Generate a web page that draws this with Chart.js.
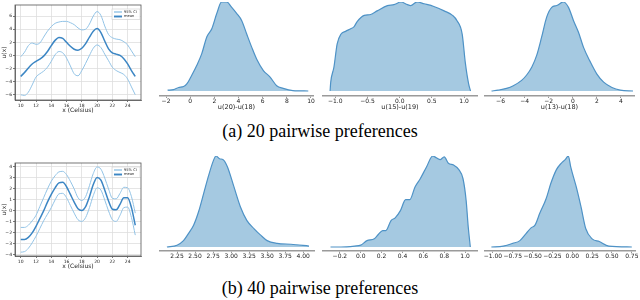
<!DOCTYPE html>
<html>
<head>
<meta charset="utf-8">
<script src="https://cdn.jsdelivr.net/npm/chart.js@4.4.0/dist/chart.umd.min.js"></script>
<style>
  body { margin: 0; width: 640px; height: 300px; position: relative; background: #fff; overflow: hidden; }
  .panel { position: absolute; }
  .cap { position: absolute; left: 0; width: 640px; text-align: center; font-family: "Liberation Serif", serif; font-size: 18px; line-height: 18px; color: #000; }
</style>
</head>
<body>
<div class="panel" style="left:0;top:0;width:146px;height:115px"><canvas id="gpA"></canvas></div>
<div class="panel" style="left:150px;top:0;width:173px;height:112px"><canvas id="kdeA1"></canvas></div>
<div class="panel" style="left:313px;top:0;width:174px;height:112px"><canvas id="kdeA2"></canvas></div>
<div class="panel" style="left:475px;top:0;width:169px;height:112px"><canvas id="kdeA3"></canvas></div>
<div class="cap" style="top:122px">(a) 20 pairwise preferences</div>

<div class="panel" style="left:0;top:158px;width:146px;height:112px"><canvas id="gpB"></canvas></div>
<div class="panel" style="left:150px;top:150px;width:174px;height:111px"><canvas id="kdeB1"></canvas></div>
<div class="panel" style="left:313px;top:150px;width:174px;height:111px"><canvas id="kdeB2"></canvas></div>
<div class="panel" style="left:475px;top:150px;width:170px;height:111px"><canvas id="kdeB3"></canvas></div>
<div class="cap" style="top:279px">(b) 40 pairwise preferences</div>

<script>
Chart.defaults.font.family = '"DejaVu Sans", sans-serif';
Chart.defaults.color = '#222';

// temperature grid shared by both GP panels
const temps = [10, 10.5, 11, 11.5, 12, 12.5, 13, 13.5, 14, 14.5, 15, 15.5, 16, 16.5, 17, 17.5,
               18, 18.5, 19, 19.5, 20, 20.5, 21, 21.5, 22, 22.5, 23, 23.5, 24, 24.5, 25];
const tempTicks = [10, 12, 14, 16, 18, 20, 22, 24];

// (a) 20 preferences: posterior mean and 95% band of u(x)
const meanA  = [-3.2, -2.6, -1.9, -1.3, -0.9, -0.55, -0.1, 0.6, 1.5, 2.3, 2.75, 2.6, 2.0, 1.4, 0.95, 0.8,
                1.1, 1.8, 2.8, 3.7, 4.1, 3.5, 2.2, 1.0, 0.4, 0.2, 0.0, -0.5, -1.3, -2.3, -3.2];
const upperA = [-0.2, 0.5, 1.5, 1.9, 1.7, 1.9, 2.8, 3.7, 4.4, 4.9, 5.1, 5.2, 5.2, 5.0, 4.7, 4.2,
                3.9, 4.0, 4.8, 6.0, 6.7, 6.1, 4.5, 3.2, 2.7, 2.5, 2.4, 2.1, 1.6, 0.7, -0.2];
const lowerA = [-6.0, -6.1, -5.6, -4.5, -3.3, -2.8, -2.4, -1.8, -0.9, 0.1, 0.6, 0.4, -0.4, -1.6, -2.8, -3.1,
                -2.3, -1.2, 0.0, 1.1, 1.6, 1.2, 0.2, -0.8, -1.8, -2.3, -2.6, -2.9, -3.6, -4.8, -6.0];
const uTicksA = [-6, -4, -2, 0, 2, 4, 6];

// (b) 40 preferences
const meanB  = [-2.6, -2.6, -2.4, -2.0, -1.4, -0.7, 0.0, 0.8, 1.5, 2.1, 2.55, 2.6, 2.2, 1.5, 0.8, 0.2,
                0.05, 0.4, 1.3, 2.4, 3.05, 2.8, 1.9, 0.9, 0.15, 0.1, 0.6, 1.2, 1.2, 0.3, -1.3];
const upperB = [-1.5, -1.5, -1.3, -0.9, -0.4, 0.4, 1.2, 2.0, 2.7, 3.2, 3.55, 3.6, 3.3, 2.7, 2.0, 1.2,
                0.95, 1.3, 2.3, 3.4, 4.0, 3.8, 3.0, 2.0, 1.15, 1.1, 1.6, 2.15, 2.1, 1.3, -0.2];
const lowerB = [-3.75, -3.7, -3.4, -2.9, -2.3, -1.6, -0.9, -0.3, 0.3, 1.0, 1.55, 1.6, 1.2, 0.5, -0.2, -0.8,
                -0.95, -0.6, 0.3, 1.4, 2.1, 1.9, 1.0, 0.0, -0.8, -0.95, -0.4, 0.3, 0.35, -0.6, -2.2];
const uTicksB = [-4, -3, -2, -1, 0, 1, 2, 3, 4];

// posterior densities of utility differences (relative height)
const a20m18X = [-1.87, -1.38, -0.96, -0.55, -0.28, 0.14, 0.55, 0.96, 1.38, 1.79, 2.2, 2.6, 3.03, 3.44, 3.86,
                 4.27, 4.68, 5.1, 5.5, 6.06, 6.6, 7.16, 7.7, 8.5, 9.78];
const a20m18Y = [0.01, 0.015, 0.04, 0.05, 0.08, 0.18, 0.29, 0.42, 0.61, 0.70, 0.87, 1.0, 1.0, 0.94, 0.87,
                 0.79, 0.64, 0.49, 0.36, 0.23, 0.16, 0.06, 0.03, 0.005, 0.0];
const a15m19X = [-1.08, -1.07, -1.02, -0.97, -0.91, -0.84, -0.76, -0.71, -0.66, -0.55, -0.45, -0.35, -0.19, -0.09,
                 0.02, 0.12, 0.17, 0.27, 0.38, 0.53, 0.69, 0.82, 0.89, 0.97, 1.02, 1.07, 1.1];
const a15m19Y = [0, 0.1, 0.27, 0.53, 0.64, 0.67, 0.70, 0.72, 0.78, 0.85, 0.86, 0.9, 0.96, 0.97,
                 1.0, 0.97, 0.96, 1.0, 0.98, 0.95, 0.9, 0.85, 0.79, 0.64, 0.31, 0.08, 0];
const a13m18X = [-6.75, -6.2, -5.5, -4.94, -4.25, -3.83, -3.4, -3.0, -2.58, -2.17, -1.75, -1.33, -0.78, -0.36,
                 0.06, 0.47, 0.89, 1.44, 2.0, 2.56, 3.25, 3.94, 5.0];
const a13m18Y = [0, 0.01, 0.03, 0.06, 0.12, 0.18, 0.27, 0.4, 0.61, 0.83, 0.94, 0.96, 1.0, 0.94,
                 0.79, 0.66, 0.49, 0.33, 0.19, 0.1, 0.04, 0.01, 0];

const b20m18X = [2.11, 2.25, 2.34, 2.41, 2.48, 2.55, 2.62, 2.69, 2.76, 2.79, 2.84, 2.89, 2.95, 3.04, 3.13,
                 3.22, 3.32, 3.41, 3.5, 3.64, 3.83, 4.08];
const b20m18Y = [0, 0.02, 0.07, 0.15, 0.24, 0.39, 0.59, 0.79, 0.96, 1.0, 0.97, 0.96, 0.88, 0.66, 0.44,
                 0.29, 0.2, 0.13, 0.07, 0.04, 0.03, 0.01];
const b15m19X = [-0.29, -0.19, -0.06, 0.0, 0.06, 0.13, 0.17, 0.21, 0.24, 0.29, 0.33, 0.38, 0.43, 0.47, 0.52,
                 0.57, 0.63, 0.69, 0.71, 0.76, 0.80, 0.84, 0.89, 0.94, 0.98, 1.01, 1.03, 1.05];
const b15m19Y = [0, 0, 0.01, 0.02, 0.07, 0.09, 0.14, 0.18, 0.18, 0.29, 0.32, 0.40, 0.52, 0.52, 0.66,
                 0.75, 0.88, 1.0, 0.99, 0.96, 0.99, 0.92, 0.9, 0.85, 0.75, 0.51, 0.22, 0];
const b13m18X = [-1.02, -0.87, -0.75, -0.66, -0.58, -0.52, -0.47, -0.41, -0.33, -0.27, -0.2, -0.14, -0.09, -0.05,
                 -0.02, 0.05, 0.11, 0.17, 0.25, 0.34, 0.46, 0.75];
const b13m18Y = [0, 0.01, 0.04, 0.07, 0.15, 0.21, 0.24, 0.37, 0.53, 0.70, 0.85, 0.92, 0.96, 1.0,
                 0.88, 0.66, 0.44, 0.2, 0.09, 0.06, 0.01, 0];

const ticksA20m18 = ['−2', '0', '2', '4', '6', '8', '10'];
const ticksA15m19 = ['−1.0', '−0.5', '0.0', '0.5', '1.0'];
const ticksA13m18 = ['−6', '−4', '−2', '0', '2', '4'];
const ticksB20m18 = ['2.25', '2.50', '2.75', '3.00', '3.25', '3.50', '3.75', '4.00'];
const ticksB15m19 = ['−0.2', '0.0', '0.2', '0.4', '0.6', '0.8', '1.0'];
const ticksB13m18 = ['−1.00', '−0.75', '−0.50', '−0.25', '0.00', '0.25', '0.50', '0.75'];

const ciColor = '#92c3e6';
const meanColor = '#3c86c4';
const kdeLine = '#4e92c6';
const kdeFill = 'rgba(31, 119, 180, 0.4)';

const minus = v => String(v).replace('-', '−');

// box around the plotting area (matplotlib frame)
const frame = {
    id: 'frame',
    afterDraw(chart) {
        const {ctx, chartArea: a} = chart;
        ctx.save();
        ctx.strokeStyle = '#555';
        ctx.lineWidth = 0.8;
        ctx.strokeRect(a.left, a.top, a.right - a.left, a.bottom - a.top);
        ctx.restore();
    }
};

// small framed legend in the upper right corner
const boxLegend = {
    id: 'boxLegend',
    afterDraw(chart) {
        const {ctx, chartArea: a} = chart;
        const items = chart.data.datasets.filter(d => d.label);
        const w = 28, rowH = 4.5, h = items.length * rowH + 1.5;
        const x = a.right - w - 1, y = a.top + 4;
        ctx.save();
        ctx.fillStyle = 'rgba(255,255,255,0.85)';
        ctx.strokeStyle = '#ccc';
        ctx.lineWidth = 0.6;
        ctx.fillRect(x, y, w, h);
        ctx.strokeRect(x, y, w, h);
        ctx.font = '3.6px "DejaVu Sans"';
        ctx.textBaseline = 'middle';
        items.forEach((d, i) => {
            const cy = y + 0.75 + rowH * i + rowH / 2;
            ctx.strokeStyle = d.borderColor;
            ctx.lineWidth = d.borderWidth + 0.4;
            ctx.beginPath();
            ctx.moveTo(x + 2, cy);
            ctx.lineTo(x + 10, cy);
            ctx.stroke();
            ctx.fillStyle = '#222';
            ctx.fillText(d.label, x + 12, cy);
        });
        ctx.restore();
    }
};

function gpChart(id, mean, upper, lower, yMin, yMax, yTicks, xAxisH, titlePad) {
    const pts = ys => temps.map((t, i) => ({x: t, y: ys[i]}));
    new Chart(document.getElementById(id), {
        type: 'line',
        data: {
            datasets: [
                {label: '95% CI', data: pts(upper), borderColor: ciColor, borderWidth: 1},
                {label: 'mean', data: pts(mean), borderColor: meanColor, borderWidth: 1.5},
                {label: '', data: pts(lower), borderColor: ciColor, borderWidth: 1}
            ]
        },
        options: {
            responsive: true,
            maintainAspectRatio: false,
            animation: false,
            layout: {padding: {top: 5, right: 5, left: 0, bottom: 0}},
            elements: {point: {radius: 0}, line: {cubicInterpolationMode: 'monotone'}},
            plugins: {legend: {display: false}, tooltip: {enabled: false}},
            scales: {
                x: {
                    type: 'linear', min: 9.25, max: 25.75,
                    afterBuildTicks: s => { s.ticks = tempTicks.map(v => ({value: v})); },
                    afterFit: s => { s.height = xAxisH; },
                    ticks: {font: {size: 4.5}, padding: 1, maxRotation: 0, autoSkip: false},
                    grid: {color: '#dedede', lineWidth: 0.8, tickLength: 2, tickColor: '#555'},
                    border: {display: true, color: '#555', width: 0.8},
                    title: {display: true, text: 'x (Celsius)', font: {size: 6}, padding: {top: 0, bottom: titlePad}}
                },
                y: {
                    min: yMin, max: yMax,
                    afterBuildTicks: s => { s.ticks = yTicks.map(v => ({value: v})); },
                    afterFit: s => { s.width = 15; },
                    ticks: {font: {size: 4.5}, padding: 1, callback: v => minus(v), autoSkip: false},
                    grid: {color: '#dedede', lineWidth: 0.8, tickLength: 2, tickColor: '#555'},
                    border: {display: true, color: '#555', width: 0.8},
                    title: {display: true, text: 'u(x)', font: {size: 6}, padding: {top: 0.5, bottom: 0}}
                }
            }
        },
        plugins: [frame, boxLegend]
    });
}

function kdeChart(id, xs, ys, xMin, xMax, tickLabels, title, yMin, padTop, xAxisH) {
    const tickValues = tickLabels.map(t => parseFloat(t.replace('−', '-')));
    new Chart(document.getElementById(id), {
        type: 'line',
        data: {
            datasets: [{
                data: xs.map((x, i) => ({x: x, y: ys[i]})),
                borderColor: kdeLine,
                backgroundColor: kdeFill,
                borderWidth: 1.2,
                fill: 'origin'
            }]
        },
        options: {
            responsive: true,
            maintainAspectRatio: false,
            animation: false,
            layout: {padding: {top: padTop, left: 10, right: 10, bottom: 0}},
            elements: {point: {radius: 0}, line: {cubicInterpolationMode: 'monotone'}},
            plugins: {legend: {display: false}, tooltip: {enabled: false}},
            scales: {
                x: {
                    type: 'linear', min: xMin, max: xMax,
                    afterBuildTicks: s => { s.ticks = tickValues.map(v => ({value: v})); },
                    afterFit: s => { s.height = xAxisH; },
                    ticks: {font: {size: 6}, padding: 0, maxRotation: 0, autoSkip: false,
                            callback: (v, i) => tickLabels[i]},
                    grid: {display: true, drawOnChartArea: false, tickLength: 2, tickColor: '#999', tickWidth: 1},
                    border: {display: true, color: '#9a9a9a', width: 1.6},
                    title: {display: !!title, text: title, font: {size: 6.5}, padding: {top: 0, bottom: 1}}
                },
                y: {display: false, min: yMin, max: 1}
            }
        }
    });
}

gpChart('gpA', meanA, upperA, lowerA, -6.8, 7.7, uTicksA, 15, 1);
gpChart('gpB', meanB, upperB, lowerB, -4.1, 4.36, uTicksB, 14, 0.4);

kdeChart('kdeA1', a20m18X, a20m18Y, -2.5, 10.17, ticksA20m18, 'u(20)-u(18)', -0.056, 2, 16);
kdeChart('kdeA2', a15m19X, a15m19Y, -1.19, 1.2, ticksA15m19, 'u(15)-u(19)', -0.056, 2, 16);
kdeChart('kdeA3', a13m18X, a13m18Y, -7.29, 5.08, ticksA13m18, 'u(13)-u(18)', -0.056, 2, 16);

kdeChart('kdeB1', b20m18X, b20m18Y, 2.014, 4.15, ticksB20m18, '', -0.044, 6, 10);
kdeChart('kdeB2', b15m19X, b15m19Y, -0.362, 1.114, ticksB15m19, '', -0.044, 6, 10);
kdeChart('kdeB3', b13m18X, b13m18Y, -1.1, 0.79, ticksB13m18, '', -0.044, 6, 10);
</script>
</body>
</html>
